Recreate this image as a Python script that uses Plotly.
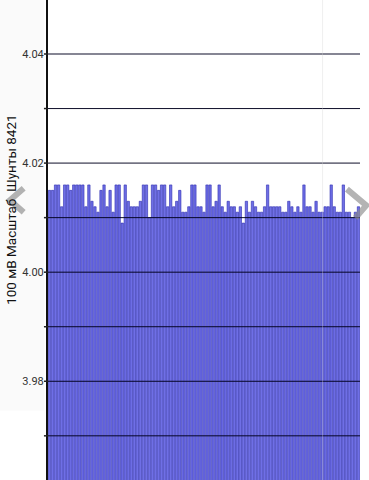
import plotly.graph_objects as go

values = [4.015,4.015,4.016,4.016,4.012,4.016,4.016,4.015,4.016,4.016,4.016,4.016,4.012,4.016,4.013,4.012,4.011,4.015,4.016,4.012,
          4.015,4.011,4.016,4.016,4.009,4.016,4.013,4.012,4.012,4.012,4.013,4.016,4.016,4.010,4.016,4.016,4.015,4.016,4.016,4.012,
          4.016,4.012,4.013,4.015,4.011,4.011,4.012,4.016,4.016,4.012,4.012,4.011,4.016,4.016,4.012,4.013,4.016,4.012,4.011,4.013,
          4.012,4.012,4.011,4.012,4.009,4.013,4.011,4.013,4.012,4.011,4.011,4.012,4.016,4.012,4.012,4.012,4.012,4.011,4.011,4.013,
          4.012,4.011,4.012,4.011,4.016,4.012,4.012,4.011,4.013,4.011,4.011,4.012,4.012,4.016,4.012,4.011,4.011,4.016,4.011,4.011,
          4.010,4.011,4.012]
index = list(range(1, len(values) + 1))
grid_values = [3.97, 3.98, 3.99, 4.00, 4.01, 4.02, 4.03, 4.04]
tick_values = [3.98, 4.00, 4.02, 4.04]
tick_labels = ["3.98", "4.00", "4.02", "4.04"]
y_title = "100 мВ Масштаб  Шунты 8421"

fig = go.Figure()
fig.add_trace(go.Bar(
    x=index, y=values,
    marker=dict(color="#6f6fe6", line=dict(color="#2b2bb0", width=0.6)),
    hoverinfo="skip",
))

shapes = []
# faint left panel
shapes.append(dict(type="rect", xref="paper", yref="paper", x0=-0.155, x1=-0.012, y0=0.145, y1=1.0,
                   fillcolor="#fafafa", line=dict(width=0), layer="below"))
for g in grid_values:
    shapes.append(dict(type="line", xref="paper", yref="y", x0=0, x1=1.0, y0=g, y1=g,
                       line=dict(color="rgba(0,0,30,0.95)", width=1), layer="above"))
    shapes.append(dict(type="line", xref="paper", yref="y", x0=-0.013, x1=0, y0=g, y1=g,
                       line=dict(color="#222", width=1.5), layer="above"))
# faint cursor line
shapes.append(dict(type="line", xref="paper", yref="paper", x0=0.88, x1=0.88, y0=0, y1=1,
                   line=dict(color="rgba(210,210,210,0.35)", width=1), layer="above"))
# navigation chevrons
chev = dict(color="rgba(140,140,140,0.65)", width=6)
shapes.append(dict(type="path", xref="paper", yref="paper",
                   path="M -0.078,0.608 L -0.122,0.583 L -0.078,0.558", line=chev, layer="above"))
shapes.append(dict(type="path", xref="paper", yref="paper",
                   path="M 0.958,0.606 L 1.02,0.572 L 0.985,0.546", line=chev, layer="above"))
fig.update_layout(shapes=shapes)

fig.add_annotation(text=y_title, xref="paper", yref="paper", x=-0.119, y=0.5625,
                   textangle=-90, showarrow=False, xanchor="center", yanchor="middle",
                   font=dict(family="Roboto", size=13.5, color="#111"))

fig.update_layout(
    width=369, height=480,
    margin=dict(l=48, r=9, t=0, b=0, autoexpand=False),
    paper_bgcolor="white", plot_bgcolor="white",
    showlegend=False,
    bargap=0.22,
    xaxis=dict(visible=False, range=[0.5, len(values) + 0.5]),
    yaxis=dict(range=[3.9619, 4.0499], tickvals=tick_values, ticktext=tick_labels, automargin=False,
               showgrid=False, zeroline=False, showline=True, linecolor="#111", linewidth=2,
               ticks="", tickfont=dict(family="Roboto", size=11, color="#333")),
    font=dict(family="Roboto"),
)

fig.write_html("out.html", config={"displayModeBar": False},
               post_script="document.body.style.margin='0';document.body.style.overflow='hidden';")
